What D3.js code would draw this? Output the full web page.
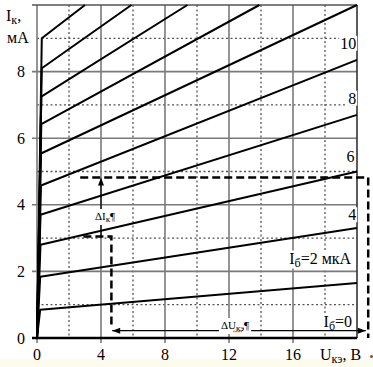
<!DOCTYPE html>
<html><head><meta charset="utf-8">
<script src="https://cdn.jsdelivr.net/npm/d3@7"></script>
<style>body{margin:0;background:#fff}svg{display:block}</style>
</head><body>
<script>
// ---- data ----
const uTicks = [0, 4, 8, 12, 16];
const uTickLabels = ["0", "4", "8", "12", "16"];
const uMinor = [2, 6, 10, 14, 18];
const ikTicks = [0, 2, 4, 6, 8];
const ikTickLabels = ["0", "2", "4", "6", "8"];
const ikMinor = [1, 3, 5, 7, 9];
const ibValues = [2, 4, 6, 8, 10, 12, 14, 16, 18, 20];
const kneeU  = [0.2, 0.2, 0.22, 0.22, 0.25, 0.25, 0.27, 0.27, 0.3, 0.3];
const kneeIk = [0.85, 1.84, 2.8, 3.7, 4.58, 5.54, 6.42, 7.25, 8.1, 9.0];
const endU   = [20, 20, 20, 20, 20, 20, 13.9, 9.4, 5.9, 3.0];
const endIk  = [1.65, 3.3, 5.0, 6.7, 8.35, 10, 10, 10, 10, 10];
const curveLabels = ["Iб=0", "Iб=2 мкА", "4", "6", "8", "10"];
const curveLabelU = [18.8, 17.7, 19.7, 19.6, 19.7, 19.45];
const curveLabelIk = [0.5, 2.4, 3.7, 5.45, 7.2, 8.85];
// annotation values
const dIkU = 4, ikLow = 3.05, ikHigh = 4.82;
const dashU = 4.65, dashStartU = 2.7, dashEndU = 20.7;
const dUIk = 0.22, dULeftU = 4.7, dURightU = 20.55;

const W = 373, H = 367;
const x = d3.scaleLinear().domain([0, 20]).range([37, 357]);
const y = d3.scaleLinear().domain([0, 10]).range([338, 5]);
const serif = "'Liberation Serif','Times New Roman',serif";

const svg = d3.select("body").append("svg").attr("width", W).attr("height", H);
svg.append("rect").attr("width", W).attr("height", H).attr("fill", "#fff");
svg.append("rect").attr("x", 0).attr("y", 359).attr("width", W).attr("height", 8).attr("fill", "#fdfbec");

// dotted minor grid
const g = svg.append("g");
g.selectAll(".vm").data(uMinor).join("line")
  .attr("x1", d => x(d)).attr("x2", d => x(d)).attr("y1", y(10)).attr("y2", y(0))
  .attr("stroke", "#555").attr("stroke-width", 1.3).attr("stroke-dasharray", "2,2.5");
g.selectAll(".hm").data(ikMinor).join("line")
  .attr("x1", x(0)).attr("x2", x(20)).attr("y1", d => y(d)).attr("y2", d => y(d))
  .attr("stroke", "#555").attr("stroke-width", 1.3).attr("stroke-dasharray", "2,2.5");
// solid grid
g.selectAll(".vs").data(uTicks).join("line")
  .attr("x1", d => x(d)).attr("x2", d => x(d)).attr("y1", y(10)).attr("y2", y(0) + 5)
  .attr("stroke", "#7a7a7a").attr("stroke-width", 1.6);
g.selectAll(".hs").data(ikTicks.filter(d => d > 0)).join("line")
  .attr("x1", x(0) - 5).attr("x2", x(20)).attr("y1", d => y(d)).attr("y2", d => y(d))
  .attr("stroke", "#7a7a7a").attr("stroke-width", 1.6);
// frame
g.append("line").attr("x1", x(0) - 5).attr("x2", x(20)).attr("y1", y(10)).attr("y2", y(10))
  .attr("stroke", "#555").attr("stroke-width", 1.6);
g.append("line").attr("x1", x(20)).attr("x2", x(20)).attr("y1", y(10)).attr("y2", y(0))
  .attr("stroke", "#333").attr("stroke-width", 1.6);
g.append("line").attr("x1", x(0) - 5).attr("x2", x(20)).attr("y1", y(0)).attr("y2", y(0))
  .attr("stroke", "#000").attr("stroke-width", 2.5);

// tick labels
svg.selectAll(".xl").data(uTicks).join("text")
  .attr("x", d => x(d)).attr("y", 360).attr("text-anchor", "middle")
  .attr("font-family", serif).attr("font-size", 16).text((d, i) => uTickLabels[i]);
svg.selectAll(".yl").data(ikTicks).join("text")
  .attr("x", 25).attr("y", d => y(d) + 5.5).attr("text-anchor", "end")
  .attr("font-family", serif).attr("font-size", 16).text((d, i) => ikTickLabels[i]);

// axis titles
const yt = svg.append("text").attr("x", 6).attr("y", 21).attr("font-family", serif).attr("font-size", 16);
yt.append("tspan").text("I");
yt.append("tspan").attr("font-size", 12).attr("dy", 3).text("к");
yt.append("tspan").attr("dy", -3).text(",");
svg.append("text").attr("x", 7).attr("y", 43).attr("font-family", serif).attr("font-size", 16).text("мА");
const xt = svg.append("text").attr("x", 320).attr("y", 360).attr("font-family", serif).attr("font-size", 16);
xt.append("tspan").text("U");
xt.append("tspan").attr("font-size", 12).attr("dy", 3).text("кэ");
xt.append("tspan").attr("dy", -3).text(", В");

// curves
const line = d3.line().x(d => x(d[0])).y(d => y(d[1]));
const curves = ibValues.map((ib, i) => [[0, 0], [kneeU[i], kneeIk[i]], [endU[i], endIk[i]]]);
svg.append("g").selectAll("path").data(curves).join("path")
  .attr("d", line).attr("fill", "none").attr("stroke", "#000")
  .attr("stroke-width", 2).attr("stroke-linejoin", "round");

// curve labels with white backgrounds
const lg = svg.append("g");
curveLabels.forEach((lab, i) => {
  const t = lg.append("text").attr("x", x(curveLabelU[i])).attr("y", y(curveLabelIk[i]) + 5.5)
    .attr("text-anchor", "middle").attr("font-family", serif).attr("font-size", 16);
  if (lab.startsWith("I")) {
    t.append("tspan").text("I");
    t.append("tspan").attr("font-size", 12).attr("dy", 3).text("б");
    t.append("tspan").attr("dy", -3).text(lab.slice(2));
  } else t.text(lab);
  const b = t.node().getBBox();
  lg.insert("rect", () => t.node()).attr("x", b.x - 1).attr("y", b.y + 1).attr("width", b.width + 2)
    .attr("height", b.height - 2).attr("fill", "#fff");
});

// annotations
const ann = svg.append("g").attr("stroke", "#000");
ann.append("path")
  .attr("d", `M${x(dashStartU)},${y(ikHigh)}H${x(dashEndU)}V${y(0)}`)
  .attr("fill", "none").attr("stroke-width", 2.5).attr("stroke-dasharray", "8,4");
ann.append("path")
  .attr("d", `M${x(dashStartU + 0.2)},${y(ikLow)}H${x(dashU)}V${y(dUIk) - 3}`)
  .attr("fill", "none").attr("stroke-width", 2.5).attr("stroke-dasharray", "8,4");
// ΔIк arrow
ann.append("line").attr("x1", x(dIkU)).attr("x2", x(dIkU)).attr("y1", y(ikLow)).attr("y2", y(ikHigh) + 2)
  .attr("stroke-width", 1.2);
svg.append("path").attr("d", `M${x(dIkU)},${y(ikHigh)}l-3,8h6z`).attr("fill", "#000");
// ΔUкэ arrow
ann.append("line").attr("x1", x(dULeftU)).attr("x2", x(dURightU)).attr("y1", y(dUIk)).attr("y2", y(dUIk))
  .attr("stroke-width", 1.2);
svg.append("path").attr("d", `M${x(dULeftU)},${y(dUIk)}l8,-3v6z`).attr("fill", "#000");
svg.append("path").attr("d", `M${x(dURightU)},${y(dUIk)}l-8,-3v6z`).attr("fill", "#000");

function smallLabel(cx, cy, main, sub) {
  const t = svg.append("text").attr("x", cx).attr("y", cy).attr("text-anchor", "middle")
    .attr("font-family", serif).attr("font-size", 11);
  t.append("tspan").text(main);
  const s = t.append("tspan").attr("font-size", 9).attr("dy", 2).text(sub);
  t.append("tspan").attr("dy", -2).text("¶");
  const b = t.node().getBBox();
  svg.insert("rect", () => t.node()).attr("x", b.x - 2).attr("y", b.y - 1).attr("width", b.width + 4)
    .attr("height", b.height + 2).attr("fill", "#fff");
  return t;
}
smallLabel(x(dIkU) + 4, 220, "ΔI", "к");
smallLabel(235, 329, "ΔU", "кэ");
svg.append("path").attr("d", "M233,332 l1.5,-1 l1.5,1 l1.5,-1 l1.5,1 l1.5,-1 l1.5,1")
  .attr("fill", "none").attr("stroke", "#d02020").attr("stroke-width", 0.8);
svg.append("circle").attr("cx", 371.5).attr("cy", 356.5).attr("r", 1.5).attr("fill", "#9a4a2a");
</script>
</body></html>
